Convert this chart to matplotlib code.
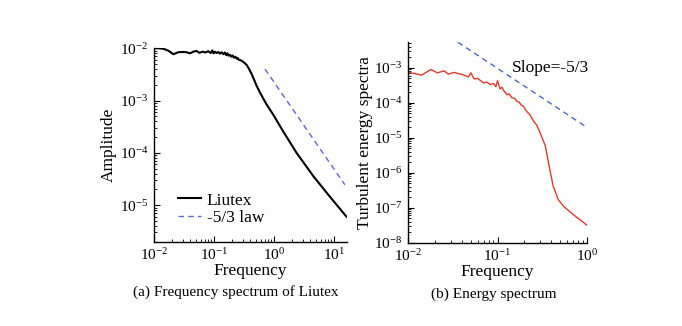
import matplotlib
matplotlib.use("Agg")
import matplotlib.pyplot as plt
from matplotlib.ticker import LogLocator, LogFormatterSciNotation, NullFormatter

plt.rcParams['font.family'] = ['Liberation Serif', 'DejaVu Serif']
plt.rcParams['mathtext.fontset'] = 'custom'
plt.rcParams['mathtext.rm'] = 'Liberation Serif'
plt.rcParams['mathtext.it'] = 'Liberation Serif:italic'

# (a) Liutex spectrum
liutex_freq = [0.010, 0.012, 0.0143, 0.0173, 0.021, 0.0254, 0.030, 0.035, 0.040, 0.045,
               0.051, 0.057, 0.065, 0.072, 0.080, 0.088, 0.094, 0.098, 0.104, 0.110,
               0.118, 0.125, 0.134, 0.143, 0.152, 0.16, 0.168, 0.175, 0.185, 0.195,
               0.205, 0.215, 0.228, 0.24, 0.25, 0.26, 0.28, 0.30, 0.32, 0.35,
               0.38, 0.42, 0.46, 0.51, 0.58, 0.66, 0.75, 0.85, 0.98, 1.43,
               2.38, 4.6, 8.6, 16.2]
liutex_amp = [1.0e-2, 1.0e-2, 9.8e-3, 9.0e-3, 7.7e-3, 8.4e-3, 8.5e-3, 8.4e-3, 8.0e-3, 8.6e-3,
              8.9e-3, 8.2e-3, 8.6e-3, 8.3e-3, 8.8e-3, 8.1e-3, 9.1e-3, 8.0e-3, 8.6e-3, 8.1e-3,
              8.5e-3, 7.9e-3, 8.4e-3, 7.7e-3, 8.3e-3, 7.4e-3, 8.0e-3, 7.2e-3, 7.5e-3, 6.9e-3,
              7.3e-3, 6.6e-3, 6.9e-3, 6.3e-3, 6.5e-3, 6.0e-3, 5.9e-3, 5.6e-3, 5.3e-3, 4.8e-3,
              4.1e-3, 3.3e-3, 2.6e-3, 1.95e-3, 1.45e-3, 1.1e-3, 8.5e-4, 6.8e-4, 5.3e-4, 2.55e-4,
              1.0e-4, 3.5e-5, 1.44e-5, 6.0e-6]
law_freq = [0.71, 15.2]
law_amp = [4.0e-3, 2.45e-5]

# (b) turbulent energy spectrum
energy_freq = [0.010, 0.0141, 0.0179, 0.0212, 0.0252, 0.0281, 0.0326, 0.0370, 0.0415, 0.0472,
               0.0502, 0.0548, 0.060, 0.064, 0.070, 0.076, 0.083, 0.090, 0.096, 0.100,
               0.107, 0.112, 0.118, 0.128, 0.135, 0.145, 0.155, 0.165, 0.175, 0.185,
               0.195, 0.205, 0.215, 0.230, 0.254, 0.275, 0.30, 0.344, 0.38, 0.42,
               0.48, 0.55, 0.70, 1.0]
energy_val = [7.5e-4, 6.2e-4, 9.0e-4, 7.2e-4, 8.2e-4, 6.6e-4, 7.4e-4, 6.8e-4, 6.3e-4, 5.5e-4,
              7.2e-4, 4.8e-4, 5.0e-4, 4.4e-4, 3.7e-4, 3.9e-4, 3.3e-4, 3.6e-4, 2.9e-4, 4.3e-4,
              2.5e-4, 2.8e-4, 2.2e-4, 1.7e-4, 1.8e-4, 1.4e-4, 1.35e-4, 1.1e-4, 1.05e-4, 8.5e-5,
              8.0e-5, 6.5e-5, 5.5e-5, 4.6e-5, 3.0e-5, 2.3e-5, 1.4e-5, 5.8e-6, 1.5e-6, 4.2e-7,
              1.7e-7, 1.1e-7, 6.5e-8, 3.2e-8]
slope_freq = [0.036, 1.0]
slope_val = [5.4e-3, 2.0e-5]

fig = plt.figure(figsize=(6.82, 3.26), dpi=100)
ax1 = fig.add_axes([0.2258, 0.2586, 0.283, 0.5933])
ax2 = fig.add_axes([0.5987, 0.2555, 0.2616, 0.6166])


def style(ax):
    ax.set_xscale('log')
    ax.set_yscale('log')
    for s in ['top', 'right']:
        ax.spines[s].set_visible(False)
    for s in ['left', 'bottom']:
        ax.spines[s].set_linewidth(1.0)
    ax.xaxis.set_major_locator(LogLocator(base=10, numticks=10))
    ax.yaxis.set_major_locator(LogLocator(base=10, numticks=10))
    ax.xaxis.set_minor_locator(LogLocator(base=10, subs=range(2, 10), numticks=20))
    ax.yaxis.set_minor_locator(LogLocator(base=10, subs=range(2, 10), numticks=20))
    ax.xaxis.set_major_formatter(LogFormatterSciNotation())
    ax.yaxis.set_major_formatter(LogFormatterSciNotation())
    ax.xaxis.set_minor_formatter(NullFormatter())
    ax.yaxis.set_minor_formatter(NullFormatter())
    ax.tick_params(which='major', direction='in', length=4, width=0.8, labelsize=11, pad=4)
    ax.tick_params(which='minor', direction='in', length=2, width=0.6)
    ax.set_xlabel('Frequency', fontsize=12.5, labelpad=0)


style(ax1)
ax1.plot(liutex_freq, liutex_amp, color='black', lw=1.5, label='Liutex')
ax1.plot(law_freq, law_amp, color='#5b68d0', lw=1.0, ls=(0, (4, 3)), label='-5/3 law')
ax1.set_xlim(0.01, 16.5)
ax1.set_ylim(2e-6, 1e-2)
ax1.set_ylabel('Amplitude', fontsize=12.5, labelpad=2)
ax1.legend(loc='upper left', bbox_to_anchor=(0.08, 0.3), frameon=False, fontsize=12.5,
           handlelength=1.3, handletextpad=0.35, labelspacing=0.1, borderpad=0)

style(ax2)
ax2.plot(energy_freq, energy_val, color='#e03a2c', lw=1.0)
ax2.plot(slope_freq, slope_val, color='#4a68c8', lw=1.0, ls=(0, (4, 3)))
ax2.set_xlim(0.01, 1.0)
ax2.set_ylim(1e-8, 5.6e-3)
ax2.set_ylabel('Turbulent energy spectra', fontsize=12.5, labelpad=1)
ax2.text(0.58, 0.87, 'Slope=-5/3', transform=ax2.transAxes, fontsize=12.5, va='center')

fig.text(236 / 682, 1 - 292 / 326, '(a) Frequency spectrum of Liutex', fontsize=11,
         ha='center', va='center')
fig.text(494 / 682, 1 - 294 / 326, '(b) Energy spectrum', fontsize=11,
         ha='center', va='center')

fig.savefig('out.png', dpi=100)
